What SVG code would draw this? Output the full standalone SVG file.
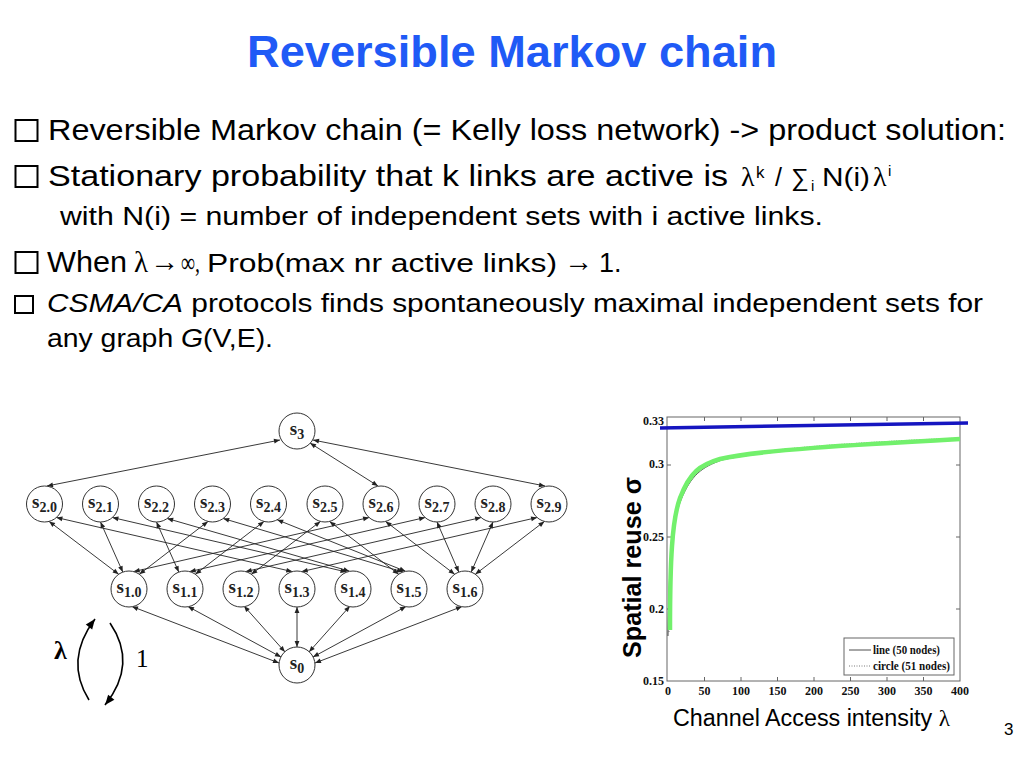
<svg xmlns="http://www.w3.org/2000/svg" width="1024" height="768" viewBox="0 0 1024 768">
<defs>
<style>
.body{font-family:"Liberation Sans",Arial,sans-serif;fill:#000}
.math{font-family:"Liberation Serif","Times New Roman",serif;fill:#000}
.bx{fill:none;stroke:#000;stroke-width:2}
.n circle{fill:#fff;stroke:#333;stroke-width:1}
.n text{font-family:"Liberation Serif","Times New Roman",serif;font-weight:bold;font-size:19px;fill:#222;text-anchor:middle}
.n tspan{font-size:14px}
.tick{font-family:"Liberation Serif","Times New Roman",serif;font-weight:bold;font-size:12px;fill:#111}
</style>
<marker id="ae" markerUnits="userSpaceOnUse" markerWidth="8" markerHeight="6" refX="6" refY="2.4" orient="auto" overflow="visible"><path d="M0,0 L6,2.4 L0,4.8 z" fill="#222"/></marker>
<marker id="as" markerUnits="userSpaceOnUse" markerWidth="8" markerHeight="6" refX="0" refY="2.4" orient="auto" overflow="visible"><path d="M6,0 L0,2.4 L6,4.8 z" fill="#222"/></marker>
<marker id="big" markerUnits="userSpaceOnUse" markerWidth="12" markerHeight="10" refX="10" refY="4" orient="auto" overflow="visible"><path d="M0,0 L10,4 L0,8 z" fill="#000"/></marker>
</defs>
<rect width="1024" height="768" fill="#fff"/>

<!-- Title -->
<text x="247" y="67" font-family="Liberation Sans, Arial, sans-serif" font-weight="bold" font-size="45" fill="#1f5af6" textLength="530" lengthAdjust="spacingAndGlyphs">Reversible Markov chain</text>

<!-- Bullets -->
<g id="bullets">
<rect class="bx" x="15.5" y="120" width="22" height="21"/>
<text class="body" x="48" y="140" font-size="30" textLength="958" lengthAdjust="spacingAndGlyphs">Reversible Markov chain (= Kelly loss network) -&gt; product solution:</text>

<rect class="bx" x="15.5" y="166" width="22" height="21"/>
<text class="body" x="48" y="186" font-size="30" textLength="680" lengthAdjust="spacingAndGlyphs">Stationary probability that k links are active is</text>
<text class="math" x="741" y="186" font-size="28">λ</text>
<text class="body" x="756" y="178" font-size="17">k</text>
<text class="body" x="775" y="186" font-size="25">/</text>
<text class="body" x="791" y="186" font-size="25">∑</text>
<text class="body" x="811" y="191" font-size="15">i</text>
<text class="body" x="822" y="186" font-size="26" textLength="48" lengthAdjust="spacingAndGlyphs">N(i)</text>
<text class="math" x="873" y="186" font-size="28">λ</text>
<text class="body" x="888" y="176" font-size="15">i</text>

<text class="body" x="60" y="225" font-size="25" textLength="763" lengthAdjust="spacingAndGlyphs">with N(i) = number of independent sets with i active links.</text>

<rect class="bx" x="15.5" y="252" width="22" height="21"/>
<text class="body" x="47" y="272" font-size="30" textLength="80" lengthAdjust="spacingAndGlyphs">When</text>
<text class="math" x="134" y="272" font-size="29">λ</text>
<text class="math" x="150" y="271" font-size="28" textLength="29" lengthAdjust="spacingAndGlyphs">→</text>
<text class="math" x="181" y="272" font-size="28" textLength="19" lengthAdjust="spacingAndGlyphs">∞,</text>
<text class="body" x="207" y="272" font-size="26" textLength="350" lengthAdjust="spacingAndGlyphs">Prob(max nr active links)</text>
<text class="math" x="564" y="271" font-size="28" textLength="29" lengthAdjust="spacingAndGlyphs">→</text>
<text class="body" x="599" y="272" font-size="27">1.</text>

<rect class="bx" x="15" y="296" width="18" height="17" stroke-width="1.8"/>
<text class="body" x="47" y="312" font-size="26" textLength="936" lengthAdjust="spacingAndGlyphs"><tspan font-style="italic">CSMA/CA</tspan> protocols finds spontaneously maximal independent sets for</text>
<text class="body" x="47" y="347" font-size="26" textLength="226" lengthAdjust="spacingAndGlyphs">any graph <tspan font-style="italic">G</tspan>(V,E).</text>
</g>

<!-- Connectors -->
<g id="connectors" stroke="#222" stroke-width="0.9" marker-start="url(#as)" marker-end="url(#ae)">
<line x1="280" y1="440" x2="47" y2="486"/>
<line x1="310" y1="443" x2="378" y2="486"/>
<line x1="313" y1="440" x2="545" y2="486"/>

<line x1="49.1" y1="521.4" x2="118.7" y2="574.3"/>
<line x1="56.4" y1="517.5" x2="292.3" y2="571.6"/>
<line x1="100.5" y1="522" x2="122.8" y2="572.1"/>
<line x1="112.4" y1="517.5" x2="346.5" y2="572"/>
<line x1="156.5" y1="522" x2="178.8" y2="572.1"/>
<line x1="167.2" y1="518.5" x2="349.5" y2="571.2"/>
<line x1="208" y1="521.4" x2="139.3" y2="574.3"/>
<line x1="223.2" y1="518.5" x2="403" y2="572"/>
<line x1="264" y1="521.4" x2="195.3" y2="574.3"/>
<line x1="277.2" y1="519.8" x2="405.5" y2="571.3"/>
<line x1="320.4" y1="521.4" x2="251.3" y2="574.3"/>
<line x1="329.6" y1="521.4" x2="398.7" y2="574.3"/>
<line x1="369.1" y1="517.5" x2="133.7" y2="571.6"/>
<line x1="385.6" y1="521.4" x2="454.7" y2="574.3"/>
<line x1="425.1" y1="517.5" x2="189.7" y2="571.6"/>
<line x1="437" y1="522" x2="458.8" y2="572.1"/>
<line x1="481.1" y1="517.5" x2="245.7" y2="571.6"/>
<line x1="493" y1="522" x2="471.2" y2="572.1"/>
<line x1="537.1" y1="517.5" x2="301.7" y2="571.6"/>
<line x1="544.4" y1="521.4" x2="475.3" y2="574.3"/>

<line x1="132" y1="606.5" x2="279" y2="663"/>
<line x1="188" y1="606.5" x2="281" y2="657"/>
<line x1="244" y1="606" x2="285" y2="652"/>
<line x1="297" y1="607" x2="297" y2="647"/>
<line x1="350" y1="606" x2="309" y2="652"/>
<line x1="406" y1="606.5" x2="313" y2="657"/>
<line x1="462" y1="606.5" x2="315" y2="663"/>
</g>

<!-- Nodes -->
<g id="s3" class="n"><circle cx="297" cy="431" r="18"/><text x="297" y="435">s<tspan dy="4">3</tspan></text></g>
<g id="s2_0" class="n"><circle cx="44.5" cy="504" r="18"/><text x="44.5" y="508">s<tspan dy="4">2.0</tspan></text></g>
<g id="s2_1" class="n"><circle cx="100.5" cy="504" r="18"/><text x="100.5" y="508">s<tspan dy="4">2.1</tspan></text></g>
<g id="s2_2" class="n"><circle cx="156.5" cy="504" r="18"/><text x="156.5" y="508">s<tspan dy="4">2.2</tspan></text></g>
<g id="s2_3" class="n"><circle cx="212.5" cy="504" r="18"/><text x="212.5" y="508">s<tspan dy="4">2.3</tspan></text></g>
<g id="s2_4" class="n"><circle cx="268.5" cy="504" r="18"/><text x="268.5" y="508">s<tspan dy="4">2.4</tspan></text></g>
<g id="s2_5" class="n"><circle cx="325" cy="504" r="18"/><text x="325" y="508">s<tspan dy="4">2.5</tspan></text></g>
<g id="s2_6" class="n"><circle cx="381" cy="504" r="18"/><text x="381" y="508">s<tspan dy="4">2.6</tspan></text></g>
<g id="s2_7" class="n"><circle cx="437" cy="504" r="18"/><text x="437" y="508">s<tspan dy="4">2.7</tspan></text></g>
<g id="s2_8" class="n"><circle cx="493" cy="504" r="18"/><text x="493" y="508">s<tspan dy="4">2.8</tspan></text></g>
<g id="s2_9" class="n"><circle cx="549" cy="504" r="18"/><text x="549" y="508">s<tspan dy="4">2.9</tspan></text></g>
<g id="s1_0" class="n"><circle cx="129" cy="589" r="18"/><text x="129" y="593">s<tspan dy="4">1.0</tspan></text></g>
<g id="s1_1" class="n"><circle cx="185" cy="589" r="18"/><text x="185" y="593">s<tspan dy="4">1.1</tspan></text></g>
<g id="s1_2" class="n"><circle cx="241" cy="589" r="18"/><text x="241" y="593">s<tspan dy="4">1.2</tspan></text></g>
<g id="s1_3" class="n"><circle cx="297" cy="589" r="18"/><text x="297" y="593">s<tspan dy="4">1.3</tspan></text></g>
<g id="s1_4" class="n"><circle cx="353" cy="589" r="18"/><text x="353" y="593">s<tspan dy="4">1.4</tspan></text></g>
<g id="s1_5" class="n"><circle cx="409" cy="589" r="18"/><text x="409" y="593">s<tspan dy="4">1.5</tspan></text></g>
<g id="s1_6" class="n"><circle cx="465" cy="589" r="18"/><text x="465" y="593">s<tspan dy="4">1.6</tspan></text></g>
<g id="s0" class="n"><circle cx="297" cy="665" r="18"/><text x="297" y="669">s<tspan dy="4">0</tspan></text></g>

<!-- lambda / 1 legend -->
<g id="rates">
<path d="M89,700 Q64,660 95,619" fill="none" stroke="#000" stroke-width="1.6" marker-end="url(#big)"/>
<path d="M110,623 Q138,664 105,705" fill="none" stroke="#000" stroke-width="1.6" marker-end="url(#big)"/>
<text class="math" x="54" y="659" font-size="26" font-weight="bold">λ</text>
<text class="math" x="136" y="667" font-size="25">1</text>
</g>

<!-- Chart -->
<g id="chart">
<rect x="667" y="417" width="293" height="264" fill="#fff" stroke="#666" stroke-width="1"/>
<g stroke="#666" stroke-width="1">
<path d="M704.5,681v-4M741,681v-4M777.5,681v-4M814,681v-4M850.5,681v-4M887,681v-4M923.5,681v-4M704.5,417v4M741,417v4M777.5,417v4M814,417v4M850.5,417v4M887,417v4M923.5,417v4"/>
<path d="M667,465h4M667,537h4M667,609h4M960,465h-4M960,537h-4M960,609h-4"/>
</g>
<g class="tick" text-anchor="end">
<text x="664" y="425">0.33</text>
<text x="664" y="468">0.3</text>
<text x="664" y="541">0.25</text>
<text x="664" y="613">0.2</text>
<text x="664" y="685">0.15</text>
</g>
<g class="tick" text-anchor="middle">
<text x="668" y="695">0</text>
<text x="704.5" y="695">50</text>
<text x="741" y="695">100</text>
<text x="777.5" y="695">150</text>
<text x="814" y="695">200</text>
<text x="850.5" y="695">250</text>
<text x="887" y="695">300</text>
<text x="923.5" y="695">350</text>
<text x="960" y="695">400</text>
</g>
<path d="M668,636 C669,560 672,522 681,500 C691,475 702,467 722,460 C762,451 850,445 960,440" fill="none" stroke="#222" stroke-width="0.8"/>
<path d="M669,632 C670,560 672,521 680,499 C690,474 701,466 721,459 C760,449 850,442.5 960,438" fill="none" stroke="#555" stroke-width="0.8" stroke-dasharray="1,1.5"/>
<path d="M670,630 C670,560 672,520 680,498 C690,472 700,465 720,459 C760,450 850,445 960,439" fill="none" stroke="#72f06c" stroke-width="4.5"/>
<line x1="660" y1="428" x2="968" y2="423" stroke="#1515c0" stroke-width="3.5"/>
<rect x="844" y="638" width="110" height="37" fill="#fff" stroke="#666" stroke-width="1"/>
<line x1="849" y1="650" x2="871" y2="650" stroke="#222" stroke-width="0.8"/>
<line x1="849" y1="666" x2="871" y2="666" stroke="#555" stroke-width="0.8" stroke-dasharray="1,1.5"/>
<text class="tick" x="873" y="654" font-size="11" textLength="67" lengthAdjust="spacingAndGlyphs">line (50 nodes)</text>
<text class="tick" x="873" y="670" font-size="11" textLength="77" lengthAdjust="spacingAndGlyphs">circle (51 nodes)</text>
<text transform="translate(641,658) rotate(-90)" font-family="Liberation Sans, Arial, sans-serif" font-weight="bold" font-size="25" fill="#000" textLength="181" lengthAdjust="spacingAndGlyphs">Spatial reuse σ</text>
<text x="673" y="726" font-family="Liberation Sans, Arial, sans-serif" font-size="23" fill="#000" textLength="277" lengthAdjust="spacingAndGlyphs">Channel Access intensity <tspan font-family="Liberation Serif, serif">λ</tspan></text>
</g>

<text x="1004" y="735" font-family="Liberation Sans, Arial, sans-serif" font-size="17" fill="#000">3</text>
</svg>
